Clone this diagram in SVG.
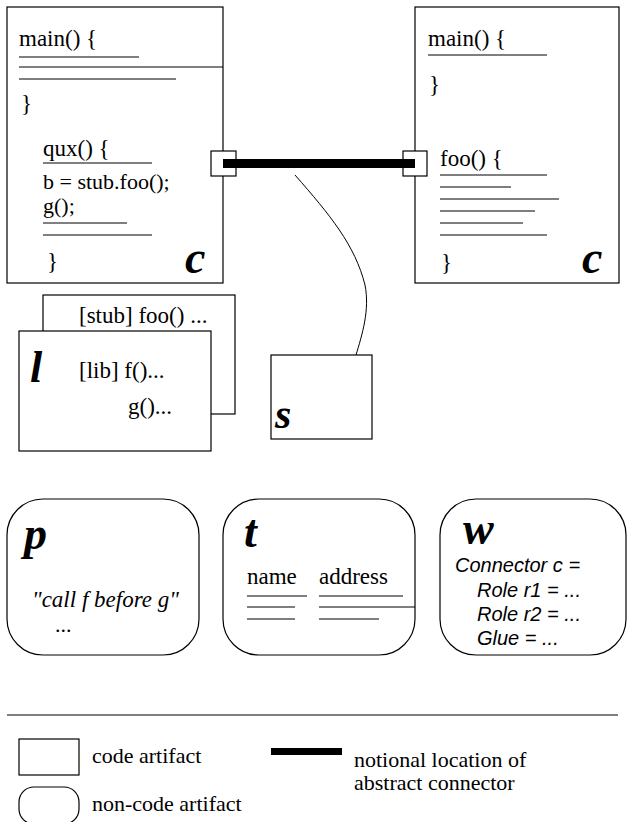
<svg xmlns="http://www.w3.org/2000/svg" width="628" height="822" viewBox="0 0 628 822">
  <style>
    .box { fill: #fff; stroke: #000; stroke-width: 1.2; }
    .rule { stroke: #000; stroke-width: 1; fill: none; }
    .serif { font-family: "Liberation Serif", "Times New Roman", serif; font-size: 22px; fill: #000; }
    .serif.lg { font-size: 23px; }
    .serif-i { font-family: "Liberation Serif", "Times New Roman", serif; font-size: 23px; font-style: italic; fill: #000; }
    .sans-i { font-family: "Liberation Sans", Arial, sans-serif; font-size: 20px; font-style: italic; fill: #000; }
    .tag { font-family: "Liberation Serif", "Times New Roman", serif; font-size: 46px; font-style: italic; font-weight: bold; fill: #000; }
    .bar { fill: #000; }
  </style>

  <!-- connectors -->
  <g id="connectors">
    <path class="rule" d="M295,175 C330,215 355,245 365,285 C370,310 362,335 356,355"/>
  </g>

  <!-- left component -->
  <g id="component-left">
    <rect class="box" x="7" y="7" width="216" height="276"/>
    <text class="serif lg" x="19" y="46">main() {</text>
    <line class="rule" x1="19" y1="57" x2="139" y2="57"/>
    <line class="rule" x1="19" y1="67" x2="223" y2="67"/>
    <line class="rule" x1="19" y1="79" x2="176" y2="79"/>
    <text class="serif lg" x="21" y="111">}</text>
    <text class="serif lg" x="43" y="156">qux() {</text>
    <line class="rule" x1="43" y1="163" x2="152" y2="163"/>
    <text class="serif" x="43" y="189">b = stub.foo();</text>
    <text class="serif" x="43" y="213">g();</text>
    <line class="rule" x1="43" y1="223" x2="127" y2="223"/>
    <line class="rule" x1="43" y1="235" x2="152" y2="235"/>
    <text class="serif lg" x="47" y="269">}</text>
    <text class="tag" x="185" y="273">c</text>
  </g>

  <!-- right component -->
  <g id="component-right">
    <rect class="box" x="415" y="7" width="204" height="276"/>
    <text class="serif lg" x="428" y="46">main() {</text>
    <line class="rule" x1="428" y1="55" x2="547" y2="55"/>
    <text class="serif lg" x="429" y="92">}</text>
    <text class="serif lg" x="440" y="166">foo() {</text>
    <line class="rule" x1="440" y1="175" x2="547" y2="175"/>
    <line class="rule" x1="440" y1="187" x2="511" y2="187"/>
    <line class="rule" x1="440" y1="199" x2="559" y2="199"/>
    <line class="rule" x1="440" y1="211" x2="535" y2="211"/>
    <line class="rule" x1="440" y1="223" x2="523" y2="223"/>
    <line class="rule" x1="440" y1="235" x2="547" y2="235"/>
    <text class="serif lg" x="441" y="270">}</text>
    <text class="tag" x="582" y="273">c</text>
  </g>

  <!-- abstract connector between the two components -->
  <g id="abstract-connector">
    <rect class="box" x="211" y="151" width="25" height="25"/>
    <rect class="box" x="403" y="151" width="24" height="25"/>
    <rect class="bar" x="223" y="159" width="192" height="9"/>
  </g>

  <!-- library stack -->
  <g id="library">
    <rect class="box" x="43" y="295" width="192" height="119"/>
    <text class="serif lg" x="79" y="323">[stub] foo() ...</text>
    <rect class="box" x="19" y="331" width="192" height="120"/>
    <text class="tag" x="30" y="382" style="font-size:44px">l</text>
    <text class="serif lg" x="79" y="378">[lib] f()...</text>
    <text class="serif lg" x="128" y="414">g()...</text>
  </g>

  <!-- stub -->
  <g id="stub">
    <rect class="box" x="271" y="355" width="101" height="84"/>
    <text class="tag" x="275" y="428" style="font-size:42px">s</text>
  </g>

  <!-- protocol -->
  <g id="protocol">
    <rect class="box" x="7" y="499" width="192" height="156" rx="36" ry="36"/>
    <text class="tag" x="24" y="549">p</text>
    <text class="serif-i" x="32" y="607">"call f before g"</text>
    <text class="serif" x="55" y="632">...</text>
  </g>

  <!-- table -->
  <g id="table">
    <rect class="box" x="223" y="499" width="192" height="156" rx="36" ry="36"/>
    <text class="tag" x="244" y="547">t</text>
    <text class="serif lg" x="247" y="584">name</text>
    <text class="serif lg" x="319" y="584">address</text>
    <line class="rule" x1="247" y1="596" x2="307" y2="596"/>
    <line class="rule" x1="319" y1="596" x2="403" y2="596"/>
    <line class="rule" x1="247" y1="607" x2="295" y2="607"/>
    <line class="rule" x1="319" y1="607" x2="415" y2="607"/>
    <line class="rule" x1="247" y1="619" x2="295" y2="619"/>
    <line class="rule" x1="319" y1="619" x2="379" y2="619"/>
  </g>

  <!-- wright specification -->
  <g id="wright">
    <rect class="box" x="440" y="499" width="186" height="156" rx="36" ry="36"/>
    <text class="tag" x="463" y="544">w</text>
    <text class="sans-i" x="455" y="572">Connector c =</text>
    <text class="sans-i" x="477" y="597">Role r1 = ...</text>
    <text class="sans-i" x="477" y="621">Role r2 = ...</text>
    <text class="sans-i" x="477" y="645">Glue = ...</text>
  </g>

  <!-- legend -->
  <g id="legend">
    <line class="rule" x1="7" y1="715" x2="618" y2="715"/>
    <rect class="box" x="19" y="739" width="60" height="36"/>
    <text class="serif" x="92" y="763">code artifact</text>
    <rect class="box" x="19" y="787" width="60" height="37" rx="15" ry="15"/>
    <text class="serif" x="92" y="811">non-code artifact</text>
    <rect class="bar" x="271" y="748" width="71" height="7"/>
    <text class="serif" x="354" y="767">notional location of</text>
    <text class="serif" x="354" y="790">abstract connector</text>
  </g>
</svg>
